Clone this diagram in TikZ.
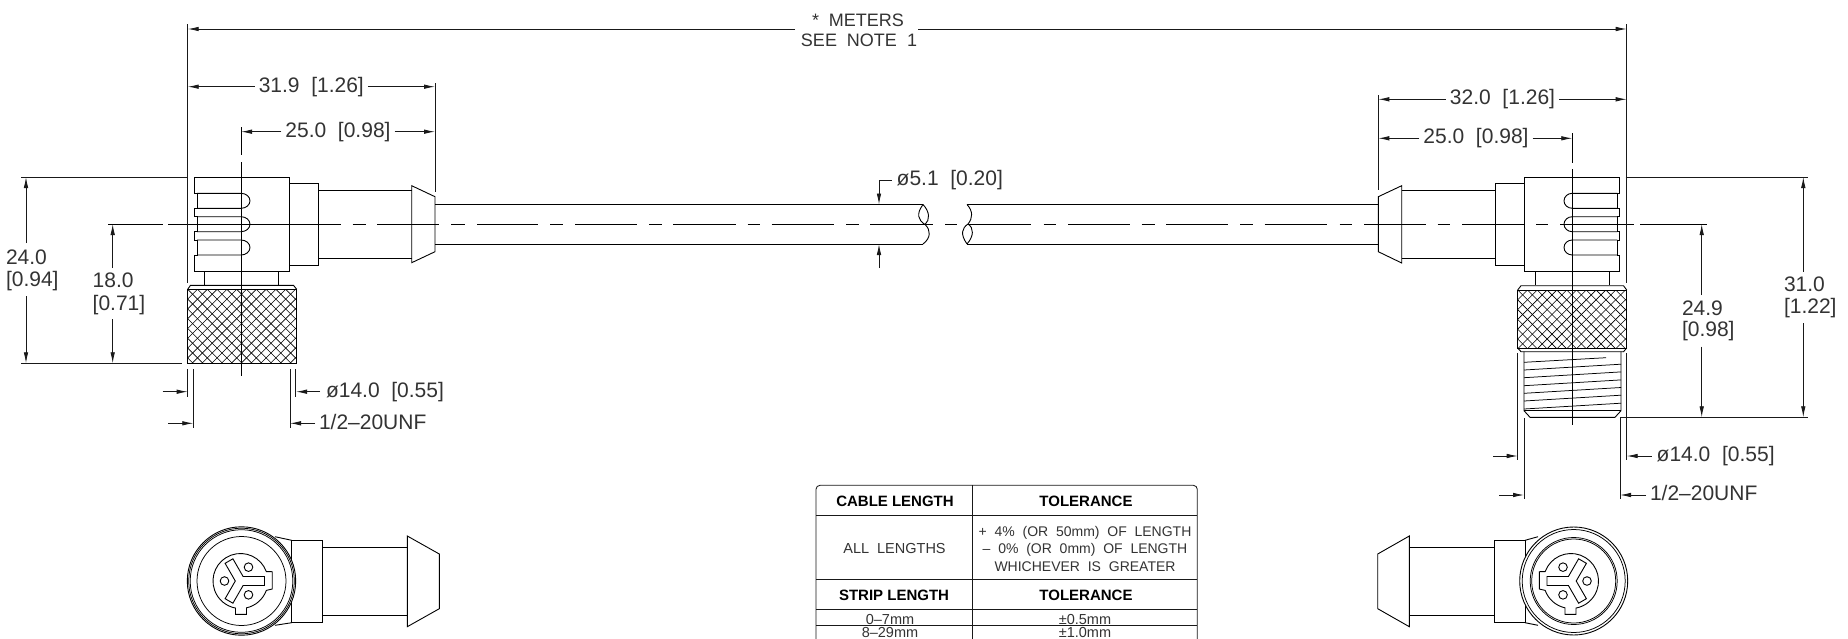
\documentclass[tikz,border=0pt]{standalone}
\usepackage{fontspec}
\setmainfont{Liberation Sans}
\usetikzlibrary{arrows.meta}
\newcommand{\dimsz}{\fontsize{21}{24}\selectfont}
\newcommand{\hatchknurl}[4]{%
  \begin{scope}
    \clip (#1,#2) rectangle (#3,#4);
    \foreach \k in {-40,...,40}{
      \draw[hatch] ({#1+\k*9.8},#2) -- ++(80,80);
      \draw[hatch] ({#1+\k*9.8},#2) -- ++(-80,80);
    }
  \end{scope}}
\newcommand{\contactface}{%
  \draw[part] (-20:27.5) arc[start angle=-20,end angle=-259.5,radius=27.5] -- (-5,33.3) -- (6,33.3) -- (77.4:27.5) arc[start angle=77.4,end angle=20,radius=27.5] -- (31.7,8) -- (31.7,-9.3) -- cycle;
  \draw[part] (24,4.5) -- (24,-4.5) -- (2.6,-4.5) -- (-7.6,-22.2) -- (-15.4,-17.7) -- (-5.2,0) -- (-15.4,17.7) -- (-7.6,22.2) -- (2.6,4.5) -- cycle;
  \foreach \ang in {-60,60,180}{ \draw[part] (\ang:16) circle[radius=4.3]; }}
\tikzset{
  part/.style={draw=black,line width=0.9pt,line join=miter},
  thinp/.style={draw=black,line width=0.75pt},
  hatch/.style={draw=black,line width=0.6pt},
  dimln/.style={draw=black!90,line width=0.85pt},
  dima/.style={dimln,-{Latex[length=11pt,width=4.5pt]}},
  cline/.style={draw=black,line width=0.85pt},
  lbl/.style={inner sep=0pt,outer sep=4pt,font=\dimsz,text=black!80,text height=15pt,text depth=0pt},
  lble/.style={lbl,anchor=west,outer sep=0pt},
  tb/.style={inner sep=0pt,font=\fontsize{14}{17}\selectfont,text=black!80,text height=10pt,text depth=0pt},
  tc/.style={inner sep=0pt,font=\fontsize{14.5}{17}\selectfont,text=black!80,text height=10pt,text depth=0pt},
  th/.style={inner sep=0pt,font=\fontsize{15}{17}\selectfont\bfseries,text=black,text height=11pt,text depth=0pt},
  top/.style={inner sep=0pt,font=\fontsize{18}{22}\selectfont,text=black!80,text height=13pt,text depth=0pt},
}
\begin{document}
\begin{tikzpicture}[x=1pt,y=-1pt]
\useasboundingbox (0,0) rectangle (1848,638);
\fill[white] (0,0) rectangle (1848,638);
% ---------- centre lines ----------
\foreach \a/\b in {108/163,168/341,352.5/366,377.4/439.4,451.3/464.7,477/538,550/563,575/637,649/662,673/735.6,747.5/760,771.6/834,846/859,870/933,945/957,969/1031.4,1043.5/1056,1068/1129.6,1141.7/1154.6,1166/1228,1240/1253,1264.5/1327,1339.5/1352,1364/1425.6,1437.7/1450,1462/1524,1536/1548.4,1560.4/1634,1640/1706.7}
  \draw[cline] (\a,224) -- (\b,224);
\draw[cline] (241,127) -- (241,155);
\draw[cline] (241,162) -- (241,376);
\draw[cline] (1572.3,133) -- (1572.3,162.7);
\draw[cline] (1572.3,169.3) -- (1572.3,425);
% ---------- left connector ----------
\draw[part] (289.3,177) -- (194.3,177) -- (194.3,193.3) -- (197,193.3) -- (197,208.3) -- (194.3,208.3) -- (194.3,216.7) -- (197,216.7) -- (197,231.7) -- (194.3,231.7) -- (194.3,240) -- (197,240) -- (197,255) -- (194.3,255) -- (194.3,271.7) -- (289.3,271.7) -- cycle;
\foreach \t in {193.3,216.7,240}{
  \draw[part] (197,\t) -- (241,\t) arc[start angle=-90,end angle=90,x radius=9,y radius=7.5] -- (197,\t+15);
}
\draw[part] (289.3,183.3) rectangle (318.7,265);
\draw[part] (318.7,190) -- (411.7,190);
\draw[part] (318.7,258) -- (411.7,258);
\draw[part] (411.7,185.7) -- (435,196.7) -- (435,251.7) -- (411.7,262.7) -- cycle;
\draw[part] (435,204.5) -- (923,204.5);
\draw[part] (435,244) -- (923,244);
\draw[part] (204.3,271.7) -- (204.3,285.3);
\draw[part] (278.3,271.7) -- (278.3,285.3);
\draw[part] (187.7,289.3) -- (190.5,285.3) -- (293.5,285.3) -- (296.7,289.3);
\hatchknurl{187.7}{289.3}{296.7}{363.3}
\draw[part] (187.7,289.3) rectangle (296.7,363.3);
% cable break
\draw[part] (923,204.5) .. controls (916,214) and (918,220) .. (925,224.5) .. controls (931,230) and (931,238) .. (923,244);
\draw[part] (923,204.5) .. controls (930,212) and (930,220) .. (925,224.5);
\draw[part] (967,244) .. controls (960,234) and (962,228) .. (968,224) .. controls (973,218) and (973,211) .. (967,204.5);
\draw[part] (967,244) .. controls (974,236) and (974,228) .. (968,224);
\draw[part] (967,204.5) -- (1378.3,204.5);
\draw[part] (967,244) -- (1378.3,244);
% ---------- right connector ----------
\draw[part] (1524.3,177) -- (1619.3,177) -- (1619.3,193.3) -- (1617.3,193.3) -- (1617.3,208.3) -- (1619.3,208.3) -- (1619.3,216.7) -- (1617.3,216.7) -- (1617.3,231.7) -- (1619.3,231.7) -- (1619.3,240) -- (1617.3,240) -- (1617.3,255) -- (1619.3,255) -- (1619.3,271.7) -- (1524.3,271.7) -- cycle;
\foreach \t in {193.3,216.7,240}{
  \draw[part] (1617.3,\t) -- (1572.3,\t) arc[start angle=-90,end angle=-270,x radius=8.3,y radius=7.5] -- (1617.3,\t+15);
}
\draw[part] (1495,183.3) rectangle (1524.3,265);
\draw[part] (1401.7,190) -- (1495,190);
\draw[part] (1401.7,258.3) -- (1495,258.3);
\draw[part] (1401.7,185.7) -- (1378.3,196.7) -- (1378.3,251.7) -- (1401.7,263) -- cycle;
\draw[part] (1535.7,271.7) -- (1535.7,285.3);
\draw[part] (1609,271.7) -- (1609,285.3);
\draw[part] (1517.7,290) -- (1521,285.7) -- (1623.5,285.7) -- (1626.7,290);
\hatchknurl{1517.7}{290}{1626.7}{348}
\draw[part] (1517.7,290) rectangle (1626.7,348);
\draw[part] (1517.7,348) -- (1521,351.7) -- (1623.5,351.7) -- (1626.7,348);
% thread
\draw[part] (1524,351.7) -- (1524,410.7) -- (1530,417.3) -- (1615,417.3) -- (1621,410.7) -- (1621,351.7);
\draw[thinp] (1524,410.7) -- (1621,410.7);
\draw[thinp] (1524,362.3) -- (1606,357.7);
\foreach \ya in {370,377.7,385.7,393.3,401,409}{
  \draw[thinp] (1524,\ya) -- (1621,\ya-5.8);
}
% ---------- end views ----------
\draw[part] (275,536.7) -- (291.7,540.3);
\draw[part] (275,625.3) -- (291.7,622.7);
\draw[part] (291.7,540.3) rectangle (322.7,622.7);
\draw[part] (322.7,547) -- (407.3,547);
\draw[part] (322.7,615.7) -- (407.3,615.7);
\draw[part] (407.3,536) -- (439.3,554) -- (439.3,608.7) -- (407.3,626.7) -- cycle;
\draw[part,fill=white] (241.5,581) circle[radius=54.2];
\draw[thinp] (241.5,581) circle[radius=52.8];
\draw[thinp] (241.5,581) circle[radius=51.3];
\draw[thinp] (241.5,581) circle[radius=44.5];
\begin{scope}[shift={(240.5,581)}]
  \contactface
\end{scope}
\draw[part] (1538,536.7) -- (1525,540.3);
\draw[part] (1538,625.3) -- (1525,622.7);
\draw[part] (1494.3,540.3) rectangle (1525,622.7);
\draw[part] (1409.3,547) -- (1494.3,547);
\draw[part] (1409.3,615.7) -- (1494.3,615.7);
\draw[part] (1409.3,536) -- (1377.7,554) -- (1377.7,608.7) -- (1409.3,626.7) -- cycle;
\draw[part,fill=white] (1573.7,581) circle[radius=54];
\draw[thinp] (1573.7,581) circle[radius=51.5];
\draw[thinp] (1573.7,581) circle[radius=43.5];
\draw[thinp] (1573.7,581) circle[radius=42];
\begin{scope}[shift={(1571,581)},xscale=-1]
  \contactface
\end{scope}
% ---------- extension lines ----------
\draw[dimln] (187.7,24) -- (187.7,283);
\draw[dimln] (1626.7,24) -- (1626.7,283);
\draw[dimln] (435,83) -- (435,192);
\draw[dimln] (1378.3,95) -- (1378.3,190);
\draw[dimln] (21,177) -- (188,177);
\draw[dimln] (21,363.3) -- (182,363.3);
\draw[dimln] (1625.7,177) -- (1808,177);
\draw[dimln] (1620,417.3) -- (1808,417.3);
\draw[dimln] (187.7,369) -- (187.7,397);
\draw[dimln] (295.7,369) -- (295.7,397);
\draw[dimln] (193.3,369) -- (193.3,428);
\draw[dimln] (290,369) -- (290,428);
\draw[dimln] (1517.7,353) -- (1517.7,460);
\draw[dimln] (1626.7,353) -- (1626.7,460);
\draw[dimln] (1524,418) -- (1524,499.3);
\draw[dimln] (1620,418) -- (1620,499.3);
% ---------- overall length ----------
\node[top] (meters) at (858,20) {*\ \ METERS};
\node[top] (seenote) at (859,40) {SEE\ \ NOTE\ \ 1};
\coordinate (ovl) at (187.7,29); \coordinate (ovr) at (1626.7,29);
\coordinate (ovm) at (795,29); \coordinate (ovn) at (918,29);
\draw[dima] (ovm) -- (ovl);
\draw[dima] (ovn) -- (ovr);
% ---------- dimensions ----------
\node[lbl] (d319) at (311.3,85) {31.9\ \ [1.26]};
\coordinate (a1) at (187.7,86.7); \coordinate (a2) at (435,86.7);
\draw[dima] (d319.west |- a1) -- (a1); \draw[dima] (d319.east |- a2) -- (a2);
\node[lbl] (d250) at (338,130) {25.0\ \ [0.98]};
\coordinate (b1) at (241,131.7); \coordinate (b2) at (435,131.7);
\draw[dima] (d250.west |- b1) -- (b1); \draw[dima] (d250.east |- b2) -- (b2);
\node[lbl] (d320) at (1502.5,97) {32.0\ \ [1.26]};
\coordinate (c1) at (1378.3,99.3); \coordinate (c2) at (1626.7,99.3);
\draw[dima] (d320.west |- c1) -- (c1); \draw[dima] (d320.east |- c2) -- (c2);
\node[lbl] (d250r) at (1476,136) {25.0\ \ [0.98]};
\coordinate (e1) at (1378.3,138.3); \coordinate (e2) at (1572.3,138.3);
\draw[dima] (d250r.west |- e1) -- (e1); \draw[dima] (d250r.east |- e2) -- (e2);
% left vertical
\node[lble] (t24a) at (6,257) {24.0};
\node[lble] (t24b) at (6,279) {[0.94]};
\coordinate (f0) at (26,243); \coordinate (f1) at (26,177); \coordinate (f2) at (26,296); \coordinate (f3) at (26,363.3);
\draw[dima] (f0) -- (f1); \draw[dima] (f2) -- (f3);
\node[lble] (t18a) at (92.7,280) {18.0};
\node[lble] (t18b) at (92.7,302.7) {[0.71]};
\coordinate (g0) at (112.7,268); \coordinate (g1) at (112.7,224); \coordinate (g2) at (112.7,319); \coordinate (g3) at (112.7,363.3);
\draw[dima] (g0) -- (g1); \draw[dima] (g2) -- (g3);
% right vertical
\node[lble] (t31a) at (1784,284) {31.0};
\node[lble] (t31b) at (1784,306) {[1.22]};
\coordinate (h0) at (1803.3,271.7); \coordinate (h1) at (1803.3,177); \coordinate (h2) at (1803.3,323); \coordinate (h3) at (1803.3,417.3);
\draw[dima] (h0) -- (h1); \draw[dima] (h2) -- (h3);
\node[lble] (t249a) at (1682,307.7) {24.9};
\node[lble] (t249b) at (1682,329.3) {[0.98]};
\coordinate (i0) at (1701.7,295); \coordinate (i1) at (1701.7,224); \coordinate (i2) at (1701.7,346.7); \coordinate (i3) at (1701.7,417.3);
\draw[dima] (i0) -- (i1); \draw[dima] (i2) -- (i3);
% thread and diameter, left
\node[lble] (dl14) at (326,390) {ø14.0\ \ [0.55]};
\coordinate (j1) at (162.7,391.7); \coordinate (j2) at (187.7,391.7); \coordinate (j3) at (320,391.7); \coordinate (j4) at (296,391.7);
\draw[dima] (j1) -- (j2); \draw[dima] (j3) -- (j4);
\node[lble] (ul) at (319,421.7) {1/2–20UNF};
\coordinate (k1) at (168.3,423.3); \coordinate (k2) at (193.3,423.3); \coordinate (k3) at (315,423.3); \coordinate (k4) at (290,423.3);
\draw[dima] (k1) -- (k2); \draw[dima] (k3) -- (k4);
% thread and diameter, right
\node[lble] (dr14) at (1656.7,454) {ø14.0\ \ [0.55]};
\coordinate (l1) at (1493.3,456); \coordinate (l2) at (1517.7,456); \coordinate (l3) at (1651.7,456); \coordinate (l4) at (1626.7,456);
\draw[dima] (l1) -- (l2); \draw[dima] (l3) -- (l4);
\node[lble] (ur) at (1650,493) {1/2–20UNF};
\coordinate (m1) at (1499,495); \coordinate (m2) at (1524,495); \coordinate (m3) at (1646,495); \coordinate (m4) at (1620,495);
\draw[dima] (m1) -- (m2); \draw[dima] (m3) -- (m4);
% cable diameter
\node[lble] (dc) at (896.7,178) {ø5.1\ \ [0.20]};
\coordinate (n1) at (891.7,180); \coordinate (n2) at (879,180); \coordinate (n3) at (879,204.5); \coordinate (n4) at (879,268); \coordinate (n5) at (879,244);
\draw[dima] (n1) -- (n2) -- (n3);
\draw[dima] (n4) -- (n5);
% ---------- table ----------
\draw[dimln,rounded corners=4pt] (816,640) -- (816,485.3) -- (1197.3,485.3) -- (1197.3,640);
\draw[dimln] (972.3,485.3) -- (972.3,640);
\foreach \yy in {515.3,579.3,609.3,625}{ \draw[dimln] (816,\yy) -- (1197.3,\yy); }
\node[th] (c1h) at (895,500.5) {CABLE LENGTH};
\node[th] (c2h) at (1086,500.5) {TOLERANCE};
\node[tc] (all) at (894.5,548) {ALL\ \ LENGTHS};
\node[tb] (p4) at (1085,531) {+\ \ 4\%\ \ (OR\ \ 50mm)\ \ OF\ \ LENGTH};
\node[tb] (m0) at (1085,548.3) {–\ \ 0\%\ \ (OR\ \ 0mm)\ \ OF\ \ LENGTH};
\node[tb] (wh) at (1085,566) {WHICHEVER\ \ IS\ \ GREATER};
\node[th] (s1h) at (894,594.5) {STRIP LENGTH};
\node[th] (s2h) at (1086,594.5) {TOLERANCE};
\node[tc] (r1a) at (890,619) {0–7mm};
\node[tc] (r1b) at (1085,619) {±0.5mm};
\node[tc] (r2a) at (890,632.7) {8–29mm};
\node[tc] (r2b) at (1085,632.7) {±1.0mm};
\end{tikzpicture}
\end{document}
